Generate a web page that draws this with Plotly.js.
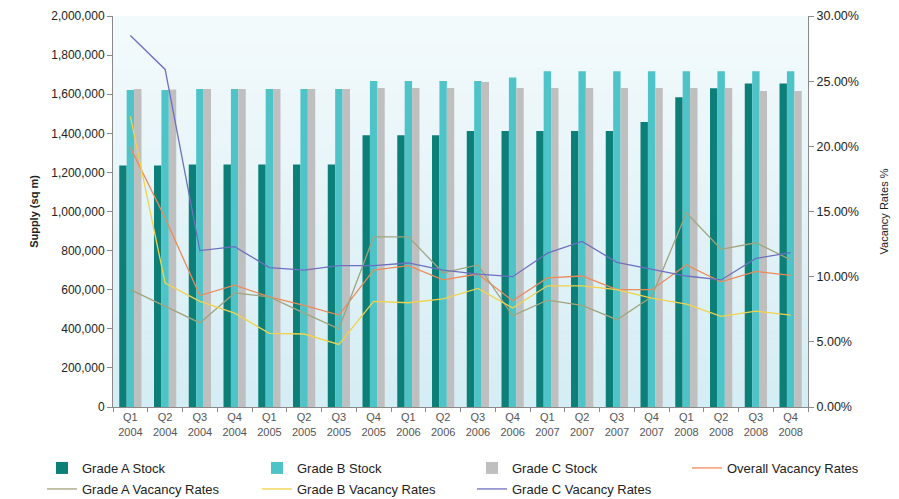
<!DOCTYPE html>
<html>
<head>
<meta charset="utf-8">
<script src="https://cdn.plot.ly/plotly-3.0.1.min.js"></script>
<style>html,body{margin:0;padding:0;background:#fff;}#chart{width:899px;height:499px;}</style>
</head>
<body>
<div id="chart"></div>
<script>
var categories = ["Q1<br>2004","Q2<br>2004","Q3<br>2004","Q4<br>2004","Q1<br>2005","Q2<br>2005","Q3<br>2005","Q4<br>2005","Q1<br>2006","Q2<br>2006","Q3<br>2006","Q4<br>2006","Q1<br>2007","Q2<br>2007","Q3<br>2007","Q4<br>2007","Q1<br>2008","Q2<br>2008","Q3<br>2008","Q4<br>2008"];
var gradeAStock = [1235000,1235000,1240000,1240000,1240000,1240000,1240000,1390000,1390000,1390000,1412000,1412000,1412000,1412000,1412000,1458000,1584000,1630000,1655000,1655000];
var gradeBStock = [1622000,1622000,1626000,1626000,1626000,1626000,1626000,1667000,1667000,1667000,1667000,1686000,1718000,1718000,1718000,1718000,1718000,1718000,1718000,1718000];
var gradeCStock = [1626000,1624000,1626000,1626000,1626000,1626000,1626000,1632000,1632000,1632000,1662000,1632000,1632000,1632000,1632000,1632000,1632000,1632000,1616000,1616000];
var overallVac = [0.199,0.145,0.0855,0.0935,0.0845,0.078,0.0705,0.105,0.1085,0.0975,0.102,0.0815,0.099,0.1005,0.090,0.090,0.109,0.096,0.104,0.101];
var gradeAVac = [0.090,0.077,0.0645,0.0875,0.0845,0.072,0.060,0.1305,0.1305,0.103,0.109,0.070,0.082,0.078,0.067,0.0845,0.149,0.121,0.126,0.113];
var gradeBVac = [0.223,0.095,0.081,0.072,0.0565,0.056,0.048,0.081,0.080,0.083,0.091,0.076,0.093,0.093,0.090,0.0835,0.079,0.0695,0.0735,0.0705];
var gradeCVac = [0.285,0.259,0.120,0.123,0.107,0.105,0.1085,0.1085,0.1105,0.105,0.102,0.100,0.118,0.127,0.111,0.106,0.1005,0.0975,0.114,0.1185];

var leftTickVals = [0,200000,400000,600000,800000,1000000,1200000,1400000,1600000,1800000,2000000];

var traces = [
  {type:'bar', name:'Grade A Stock', x:categories, y:gradeAStock, marker:{color:'#0b7f78'}, yaxis:'y', legend:'legend'},
  {type:'bar', name:'Grade B Stock', x:categories, y:gradeBStock, marker:{color:'#4ec4c9'}, yaxis:'y', legend:'legend'},
  {type:'bar', name:'Grade C Stock', x:categories, y:gradeCStock, marker:{color:'#c0bfbf'}, yaxis:'y', legend:'legend2'},
  {type:'scatter', mode:'lines', name:'Overall Vacancy Rates', x:categories, y:overallVac, yaxis:'y2', line:{color:'#ee8a5a', width:1.3}, legend:'legend2'},
  {type:'scatter', mode:'lines', name:'Grade A Vacancy Rates', x:categories, y:gradeAVac, yaxis:'y2', line:{color:'#a3a37c', width:1.3}, legend:'legend3'},
  {type:'scatter', mode:'lines', name:'Grade B Vacancy Rates', x:categories, y:gradeBVac, yaxis:'y2', line:{color:'#f2d24a', width:1.3}, legend:'legend3'},
  {type:'scatter', mode:'lines', name:'Grade C Vacancy Rates', x:categories, y:gradeCVac, yaxis:'y2', line:{color:'#6f6fc0', width:1.3}, legend:'legend4'}
];

// background gradient stripes (style only)
var shapes = [];
var n = 30;
function lerp(a,b,t){return Math.round(a+(b-a)*t);}
for (var i=0;i<n;i++){
  var t = i/(n-1);
  var r = lerp(243,213,t), g = lerp(250,237,t), b = lerp(252,244,t);
  shapes.push({type:'rect', xref:'paper', yref:'paper', x0:0, x1:1, y0:1-(i+1)/n, y1:1-i/n,
    fillcolor:'rgb('+r+','+g+','+b+')', line:{width:0}, layer:'below'});
}

function legendAt(px, py){
  return {orientation:'h', xref:'container', yref:'container', x:px/899, xanchor:'left', y:1-py/499, yanchor:'top',
    entrywidth:170, entrywidthmode:'pixels', traceorder:'normal',
    font:{size:13, color:'#222'}, bgcolor:'rgba(0,0,0,0)', itemwidth:30, tracegroupgap:0};
}

var layout = {
  width:899, height:499,
  margin:{l:113, r:91, t:16, b:92},
  paper_bgcolor:'#ffffff',
  plot_bgcolor:'#e4f3f8',
  font:{family:'Liberation Sans, Arial, sans-serif', color:'#222', size:12},
  barmode:'group', bargap:0.36, bargroupgap:0,
  shapes:shapes,
  showlegend:true,
  xaxis:{type:'category', showgrid:false, showline:true, linecolor:'#8a8a8a', linewidth:1,
    ticks:'outside', tickson:'boundaries', ticklen:4, tickcolor:'#8a8a8a',
    tickfont:{size:11, color:'#555'}, automargin:false},
  yaxis:{range:[0,2000000], tickvals:leftTickVals, tickformat:',d', showgrid:false, zeroline:false,
    showline:true, linecolor:'#8a8a8a', linewidth:1, ticks:'outside', ticklen:5, tickcolor:'#8a8a8a',
    tickfont:{size:12, color:'#222'},
    title:{text:'<b>Supply (sq m)</b>', font:{size:11, color:'#222'}, standoff:10}, automargin:false},
  yaxis2:{range:[0,0.30], dtick:0.05, tickformat:'.2%', overlaying:'y', side:'right', showgrid:false, zeroline:false,
    showline:true, linecolor:'#8a8a8a', linewidth:1, ticks:'outside', ticklen:5, tickcolor:'#8a8a8a',
    tickfont:{size:12.5, color:'#222'},
    title:{text:'Vacancy Rates %', font:{size:11, color:'#222'}, standoff:22}, automargin:false},
  legend:legendAt(42, 453),
  legend2:legendAt(472, 453),
  legend3:legendAt(42, 474),
  legend4:legendAt(472, 474)
};

Plotly.newPlot('chart', traces, layout, {displayModeBar:false, staticPlot:true});
</script>
</body>
</html>
